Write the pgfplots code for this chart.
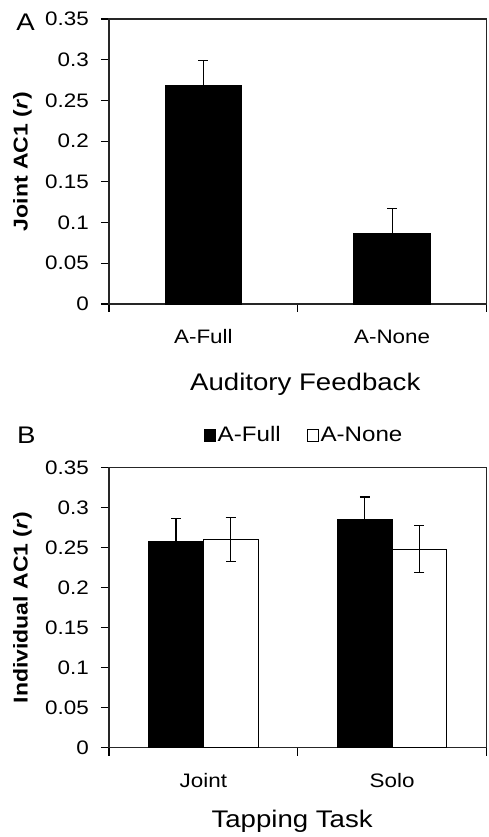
\documentclass[border=0pt]{standalone}
\usepackage{pgfplots}
\pgfplotsset{compat=1.18}
\usepackage{fontspec}
\setmainfont{Liberation Sans}[FakeStretch=1.15]
\pgfplotsset{
  panel/.style={
    scale only axis, width=377.5bp,
    xmin=-0.5, xmax=1.5, ymin=0, ymax=0.35,
    ytick={0,0.05,0.1,0.15,0.2,0.25,0.3,0.35},
    xtick={0,1}, minor xtick={-0.5,0.5,1.5},
    major x tick style={draw=none},
    minor tick length=8bp, major tick length=8bp,
    tick align=outside, ytick pos=left, xtick pos=bottom,
    axis line style={line width=1.1bp, black!85},
    every tick/.style={line width=1.1bp, black},
    /pgf/number format/assume math mode=true,
    yticklabel style={/pgf/number format/fixed, /pgf/number format/precision=2,
      font=\fontsize{19.5bp}{22bp}\selectfont, inner sep=0pt, xshift=-12bp},
    xticklabel style={font=\fontsize{19.5bp}{22bp}\selectfont, anchor=base, yshift=-32bp},
    ylabel style={font=\bfseries\fontsize{20bp}{24bp}\selectfont, at={(axis description cs:-0.229,0.5)}, anchor=center},
    xlabel style={font=\fontsize{24bp}{28bp}\selectfont, anchor=base},
    clip=false,
  },
  errstyle/.style={error bars/.cd, y dir=both, y explicit,
    error bar style={line width=1.1bp, black},
    error mark options={rotate=90, mark size=5bp, line width=1.1bp, black}},
}
\begin{document}
\begin{tikzpicture}
% Panel A
\begin{axis}[panel, at={(109bp,533bp)}, anchor=south west, height=285bp,
  ybar, bar width=0.405,
  xticklabels={A-Full,A-None},
  ylabel={Joint AC1 (\textit{r})},
  xlabel={Auditory Feedback},
  xlabel style={at={(axis description cs:0.52,-0.302)}}]
\addplot[fill=black, draw=black, line width=1.1bp, errstyle] coordinates {
  (0,0.268) +- (0,0.031)
  (1,0.086) +- (0,0.031)
};
\node[anchor=base west, font=\fontsize{24bp}{28bp}\selectfont] at (axis description cs:-0.255,0.961) {A};
\end{axis}
% Panel B
\begin{axis}[panel, at={(109bp,89.3bp)}, anchor=south west, height=280.3bp,
  ybar, bar width=0.29,
  xticklabels={Joint,Solo},
  ylabel={Individual AC1 (\textit{r})},
  xlabel={Tapping Task},
  xlabel style={at={(axis description cs:0.485,-0.286)}},
  legend columns=2,
  legend style={draw=none, fill=none, at={(axis description cs:0.517,1.1156)}, anchor=center,
    font=\fontsize{21bp}{25bp}\selectfont, inner sep=0pt,
    /tikz/every even column/.append style={column sep=24bp}},
  legend cell align=left,
  legend image code/.code={\draw[#1, line width=0.8bp] (0bp,-6bp) rectangle (11bp,6bp);}]
\addplot[fill=black, draw=black, line width=1.1bp, bar shift=-0.145, errstyle] coordinates {
  (0,0.257) +- (0,0.029)
  (1,0.285) +- (0,0.028)
};
\addlegendentry{A-Full}
\addplot[fill=white, draw=black, line width=1.1bp, bar shift=0.145, errstyle] coordinates {
  (0,0.260) +- (0,0.028)
  (1,0.248) +- (0,0.0295)
};
\addlegendentry{A-None}
\node[anchor=base west, font=\fontsize{24bp}{28bp}\selectfont] at (axis description cs:-0.253,1.087) {B};
\end{axis}
\pgfresetboundingbox
\path[use as bounding box] (0,0) rectangle (489bp,837bp);
\end{tikzpicture}
\end{document}
